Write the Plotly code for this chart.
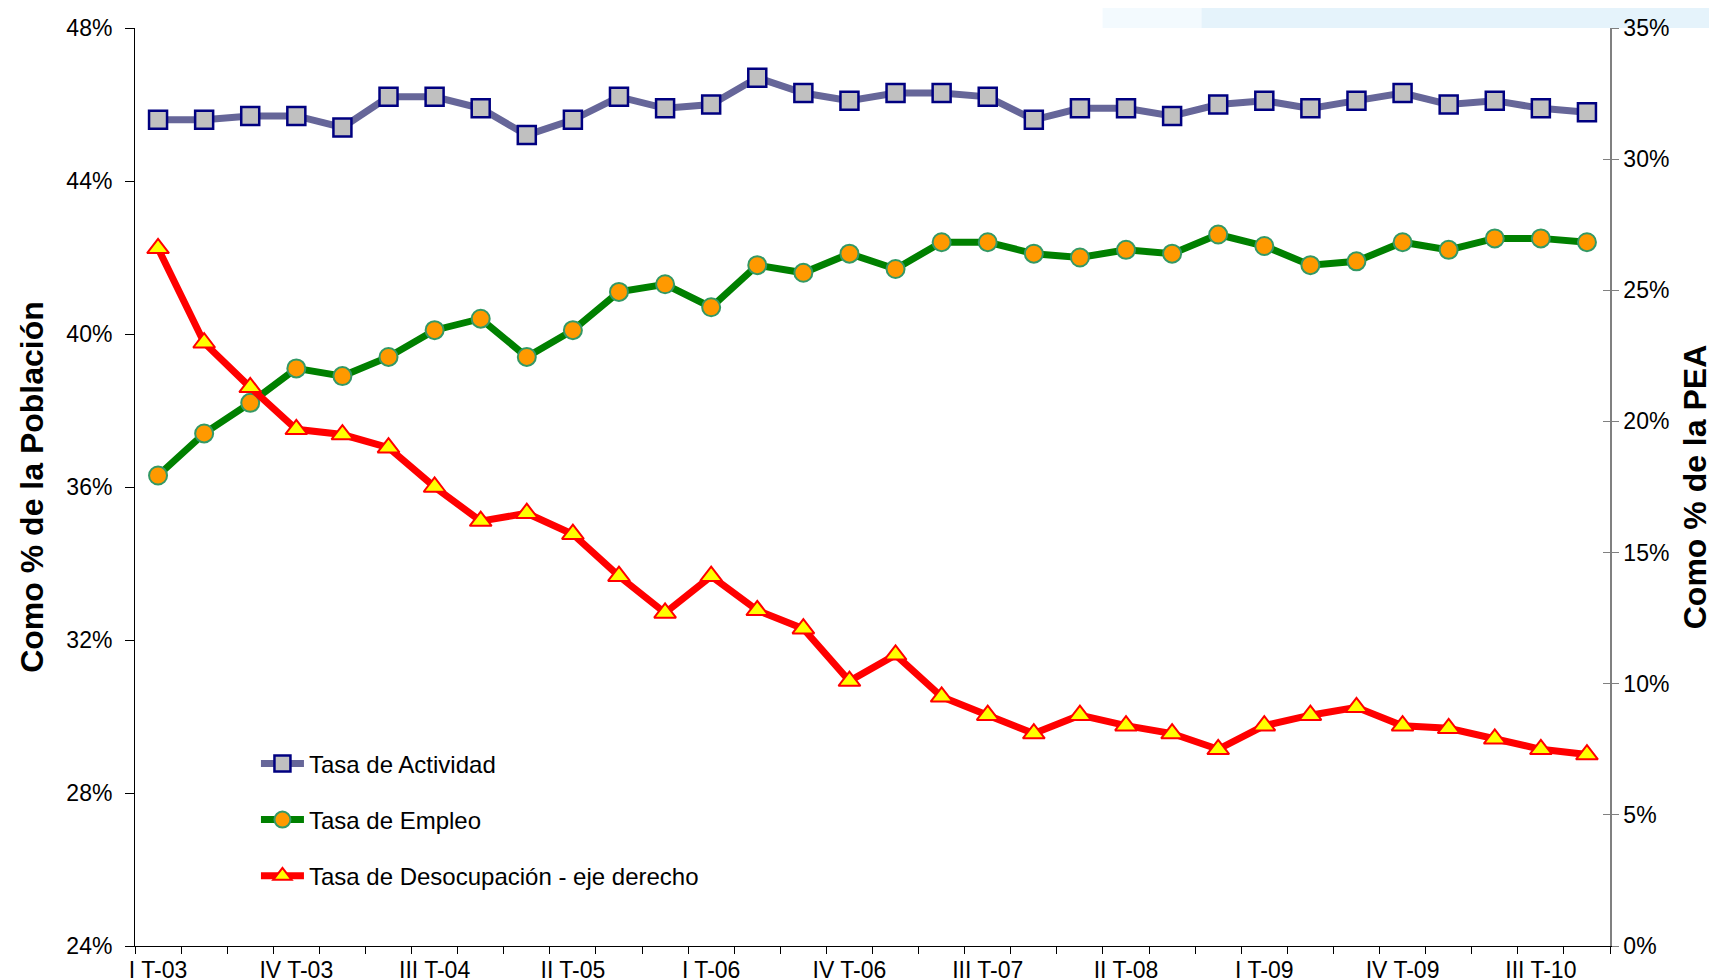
import plotly.graph_objects as go

quarters = [f"{q} T-{y:02d}" for y in range(3, 11) for q in ["I", "II", "III", "IV"]]

actividad = [45.6, 45.6, 45.7, 45.7, 45.4, 46.2, 46.2, 45.9, 45.2, 45.6, 46.2, 45.9, 46.0, 46.7, 46.3, 46.1,
             46.3, 46.3, 46.2, 45.6, 45.9, 45.9, 45.7, 46.0, 46.1, 45.9, 46.1, 46.3, 46.0, 46.1, 45.9, 45.8]
empleo = [36.3, 37.4, 38.2, 39.1, 38.9, 39.4, 40.1, 40.4, 39.4, 40.1, 41.1, 41.3, 40.7, 41.8, 41.6, 42.1,
          41.7, 42.4, 42.4, 42.1, 42.0, 42.2, 42.1, 42.6, 42.3, 41.8, 41.9, 42.4, 42.2, 42.5, 42.5, 42.4]
desocupacion = [26.6, 23.0, 21.3, 19.7, 19.5, 19.0, 17.5, 16.2, 16.5, 15.7, 14.1, 12.7, 14.1, 12.8, 12.1, 10.1,
                11.1, 9.5, 8.8, 8.1, 8.8, 8.4, 8.1, 7.5, 8.4, 8.8, 9.1, 8.4, 8.3, 7.9, 7.5, 7.3]

left_ticks = [24, 28, 32, 36, 40, 44, 48]
right_ticks = [0, 5, 10, 15, 20, 25, 30, 35]

x = list(range(len(quarters)))
label_idx = x[::3]

FONT = "Liberation Sans, Arial, sans-serif"

fig = go.Figure()
fig.add_trace(go.Scatter(
    x=x, y=actividad, name="Tasa de Actividad", mode="lines+markers",
    line=dict(color="#666699", width=7),
    marker=dict(symbol="square", size=18, color="#C0C0C0", line=dict(color="#000080", width=2.5)),
    legendgroup="a"))
fig.add_trace(go.Scatter(
    x=x, y=empleo, name="Tasa de Empleo", mode="lines+markers",
    line=dict(color="#008000", width=7),
    marker=dict(symbol="circle", size=18, color="#FF9900", line=dict(color="#339966", width=2)),
    legendgroup="b"))
fig.add_trace(go.Scatter(
    x=x, y=desocupacion, name="Tasa de Desocupación - eje derecho", mode="lines+markers",
    line=dict(color="#FF0000", width=7),
    marker=dict(symbol="triangle-up", size=19, color="#FFFF00", line=dict(color="#FF0000", width=2)),
    legendgroup="c", yaxis="y2"))
# invisible helper so the inner half of the right-axis crossing ticks is drawn
fig.add_trace(go.Scatter(
    x=[x[0]], y=[desocupacion[0]], yaxis="y3", mode="markers",
    marker=dict(opacity=0), showlegend=False, hoverinfo="skip"))

fig.update_layout(
    width=1717, height=980,
    margin=dict(l=127, r=115, t=20, b=42, autoexpand=False),
    paper_bgcolor="white", plot_bgcolor="white",
    font=dict(family=FONT, color="black"),
    showlegend=True,
    legend=dict(x=0.082, y=0.223, xanchor="left", yanchor="top",
                bgcolor="rgba(0,0,0,0)", font=dict(size=24, family=FONT),
                tracegroupgap=22, traceorder="grouped", itemwidth=43),
    xaxis=dict(
        range=[-0.5, len(quarters) - 0.5], automargin=False,
        tickvals=label_idx, ticktext=[quarters[i] for i in label_idx],
        ticks="outside", ticklen=3, tickcolor="rgba(0,0,0,0)",
        showgrid=False, zeroline=False,
        showline=True, linecolor="black", linewidth=1,
        tickfont=dict(size=23, family=FONT),
        minor=dict(ticks="outside", tickvals=[i - 0.5 for i in range(len(quarters) + 1)],
                   ticklen=7, tickcolor="black", showgrid=False),
    ),
    yaxis=dict(
        range=[24, 48], tickvals=left_ticks, ticktext=[f"{v}%" for v in left_ticks],
        automargin=False,
        ticks="outside", ticklen=9, tickcolor="black", ticklabelstandoff=8,
        showgrid=False, zeroline=False, showline=True, linecolor="black", linewidth=1,
        tickfont=dict(size=23, family=FONT),
        title=dict(text="<b>Como % de la Población</b>", font=dict(size=32, family=FONT), standoff=13),
    ),
    yaxis2=dict(
        range=[0, 35], tickvals=right_ticks, ticktext=[f"{v}%" for v in right_ticks],
        overlaying="y", side="right", automargin=False,
        ticks="outside", ticklen=7, tickcolor="#808080",
        showgrid=False, zeroline=False, showline=True, linecolor="#808080", linewidth=1.5,
        tickfont=dict(size=23, family=FONT),
        title=dict(text="<b>Como % de la PEA</b>", font=dict(size=32, family=FONT), standoff=15),
    ),
    yaxis3=dict(
        range=[0, 35], tickvals=right_ticks, overlaying="y", side="right", automargin=False,
        ticks="inside", ticklen=7, tickcolor="#808080", showticklabels=False,
        showgrid=False, zeroline=False, showline=False,
    ),
)

# faint light-blue decorative bands (background of original slide)
fig.add_shape(type="rect", xref="paper", yref="paper", x0=0.656, x1=0.723, y0=1.0, y1=1.022,
              fillcolor="#F3FAFE", line=dict(width=0), layer="below")
fig.add_shape(type="rect", xref="paper", yref="paper", x0=0.723, x1=1.08, y0=1.0, y1=1.022,
              fillcolor="#E5F3FB", line=dict(width=0), layer="below")
fig.add_shape(type="rect", xref="paper", yref="paper", x0=-0.09, x1=1.08, y0=-0.0458, y1=-0.0425,
              fillcolor="#DCEEF8", line=dict(width=0), layer="below")

fig.write_html("out.html")
